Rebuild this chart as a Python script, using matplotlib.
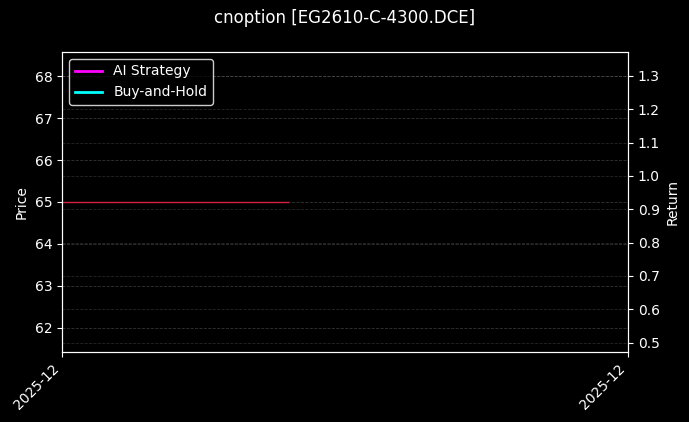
import numpy as np
import matplotlib
matplotlib.use('Agg')
import matplotlib.pyplot as plt
import matplotlib.dates as mdates
from matplotlib.ticker import MultipleLocator
from datetime import datetime

plt.style.use('dark_background')

# Data
symbol = 'cnoption [EG2610-C-4300.DCE]'
dates = [datetime(2025, 12, d) for d in range(1, 12)]
price_dates = dates[:5]
price = [65.0, 65.0, 65.0, 65.0, 65.0]
nan = np.nan
ai_strategy = [nan, nan, nan, nan, nan, nan, nan, nan, nan, nan, nan]
buy_hold = [nan, nan, nan, nan, nan, nan, nan, nan, nan, nan, nan]
return_limits = (0.472, 1.372)

# Plot
fig, ax = plt.subplots(figsize=(6.89, 4.22), dpi=100)
fig.patch.set_facecolor('black')
ax.set_facecolor('black')
fig.subplots_adjust(left=0.09, right=0.9115, bottom=0.166, top=0.8768)

ax.plot(price_dates, price, color='#d42040', lw=1.0)
ax.set_ylabel('Price')
ax.grid(True, axis='y', linestyle='--', color='gray', alpha=0.4, lw=0.6)

ax2 = ax.twinx()
ax2.plot(dates, ai_strategy, color='magenta', lw=2, label='AI Strategy')
ax2.plot(dates, buy_hold, color='cyan', lw=2, label='Buy-and-Hold')
ax2.set_ylim(*return_limits)
ax2.yaxis.set_major_locator(MultipleLocator(0.1))
ax2.set_ylabel('Return')
ax2.grid(True, axis='y', linestyle='--', color='gray', alpha=0.3, lw=0.6)

ax.set_xlim(dates[0], dates[-1])
ax.set_xticks([dates[0], dates[-1]])
ax.xaxis.set_major_formatter(mdates.DateFormatter('%Y-%m'))
plt.setp(ax.get_xticklabels(), rotation=45, ha='right')

ax2.legend(loc='upper left', facecolor='black', edgecolor='white')
fig.suptitle(symbol, fontsize=12, y=0.978)

fig.savefig('out.png', dpi=100, facecolor='black')
